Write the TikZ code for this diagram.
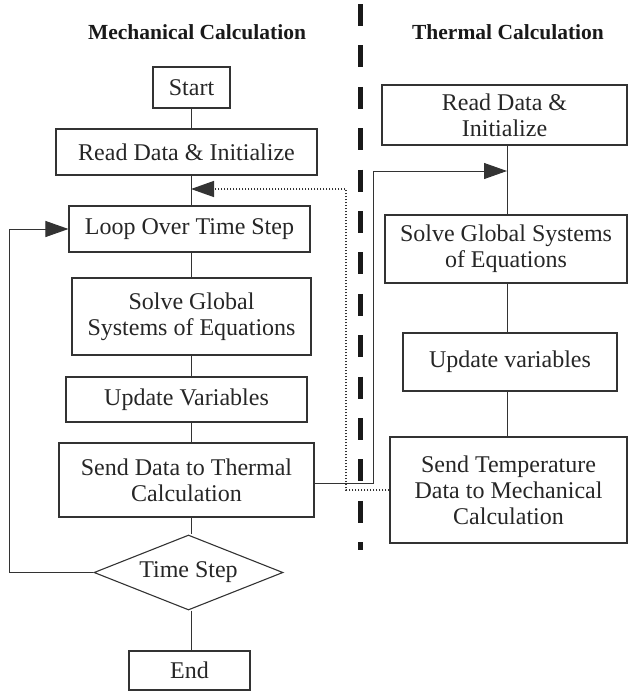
\documentclass[tikz,border=0pt]{standalone}
\usepackage{fontspec}
\setmainfont{Liberation Serif}
\usetikzlibrary{arrows.meta, shapes.geometric}
\tikzset{
  box/.style  = {draw=black!80, line width=1.1pt, align=center, inner sep=0pt,
                 font=\fontsize{24}{26}\selectfont, text=black!85},
  cond/.style = {box, diamond, aspect=2.5},
  link/.style = {draw=black!80, line width=1pt},
  sig/.style  = {link, -{Triangle[length=23pt, width=16pt]}},
  feed/.style = {sig, line width=1.4pt, dash pattern=on 1.6pt off 1.4pt},
  head/.style = {font=\bfseries\fontsize{21.5}{24}\selectfont, text=black!90},
  wall/.style = {line width=5pt, black!90, dash pattern=on 22pt off 19.4pt},
}

\begin{document}
\begin{tikzpicture}[x=1pt, y=-1pt]
  \useasboundingbox (0,0) rectangle (628,694);

  \node[head] (mtitle) at (197,32) {Mechanical Calculation};
  \node[head] (ttitle) at (508,32) {Thermal Calculation};

  % separation between the two codes
  \draw[wall] (360,4) -- (360,550);

  % mechanical side
  \node[box, minimum width=77pt,  minimum height=41pt] (start)   at (191.5,87.5) {Start};
  \node[box, minimum width=261pt, minimum height=46pt] (read1)   at (186.5,152)  {Read Data \& Initialize};
  \node[box, minimum width=241pt, minimum height=46pt] (loop)    at (189.5,229)  {Loop Over Time Step};
  \node[box, minimum width=239pt, minimum height=77pt] (solve1)  at (191.5,316.5)
    {Solve Global\\Systems of Equations};
  \node[box, minimum width=241pt, minimum height=45pt] (update1) at (186.5,399.5) {Update Variables};
  \node[box, minimum width=255pt, minimum height=74pt] (send1)   at (186.5,480)
    {Send Data to Thermal\\Calculation};
  \node[cond, minimum width=189pt, minimum height=75pt] (cond)   at (188.5,572.5) {Time Step};
  \node[box, minimum width=121pt, minimum height=39pt] (stop)    at (189.5,670.5) {End};

  % thermal side
  \node[box, minimum width=245pt, minimum height=60pt]  (read2)   at (504.5,115) {Read Data \&\\Initialize};
  \node[box, minimum width=242pt, minimum height=68pt]  (solve2)  at (506,249)
    {Solve Global Systems\\of Equations};
  \node[box, minimum width=214pt, minimum height=58pt]  (update2) at (510,362)   {Update variables};
  \node[box, minimum width=237pt, minimum height=106pt] (send2)   at (508.5,490)
    {Send Temperature\\Data to Mechanical\\Calculation};

  \coordinate (spine)  at (191,0);
  \coordinate (spine2) at (507,0);
  \coordinate (back)   at (9,0);
  \coordinate (riser)  at (373,0);
  \coordinate (drop)   at (346,0);
  \coordinate (tin)    at (507,171);
  \coordinate (tout)   at (191,189);
  \coordinate (out)    at ([yshift=-3pt]send1.east);

  \foreach \a/\b in {start/read1, read1/loop, loop/solve1, solve1/update1,
                     update1/send1, send1/cond, cond/stop}
    \draw[link] (spine |- \a.south) -- (spine |- \b.north);
  \foreach \a/\b in {read2/solve2, solve2/update2, update2/send2}
    \draw[link] (spine2 |- \a.south) -- (spine2 |- \b.north);

  % time loop
  \draw[sig] (cond.west) -- (back |- cond.west) -- (back |- loop.west) -- (loop.west);

  % data exchange
  \draw[sig] (out) -- (riser |- out) -- (riser |- tin) -- (tin);
  \draw[feed] (send2.west) -- (drop |- send2.west) -- (drop |- tout) -- (tout);
\end{tikzpicture}
\end{document}
